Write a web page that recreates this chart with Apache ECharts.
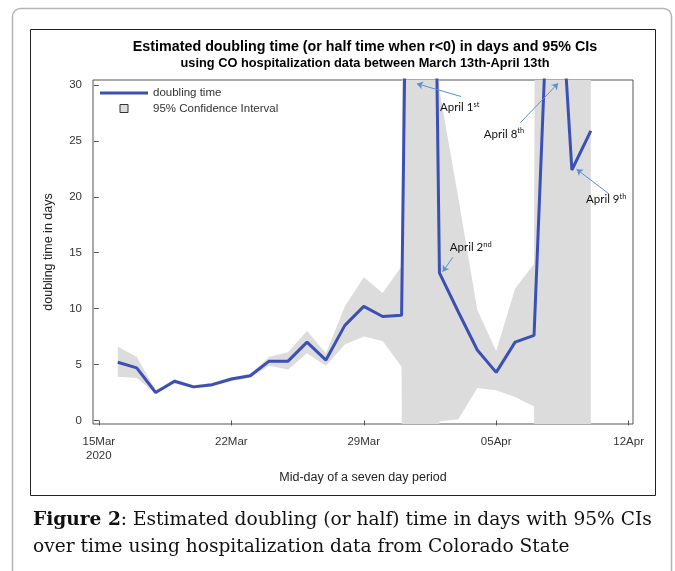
<!DOCTYPE html>
<html>
<head>
<meta charset="utf-8">
<script src="https://cdn.jsdelivr.net/npm/echarts@6/dist/echarts.min.js"></script>
<style>
  html, body { margin: 0; padding: 0; background: #fff; }
  #chart { width: 675px; height: 571px; }
</style>
</head>
<body>
<div id="chart"></div>
<script>
// ---- data ----
const dates = ['2020-03-16','2020-03-17','2020-03-18','2020-03-19','2020-03-20','2020-03-21','2020-03-22','2020-03-23','2020-03-24','2020-03-25','2020-03-26','2020-03-27','2020-03-28','2020-03-29','2020-03-30','2020-03-31','2020-04-01','2020-04-02','2020-04-03','2020-04-04','2020-04-05','2020-04-06','2020-04-07','2020-04-08','2020-04-09','2020-04-10'];
const doublingTime = [5.2,4.7,2.5,3.5,3.0,3.2,3.7,4.0,5.3,5.3,7.0,5.4,8.5,10.2,9.3,9.4,145,13.2,9.7,6.3,4.3,7.0,7.6,50,22.4,25.9];
const ciUpper = [6.6,5.7,2.7,3.7,3.15,3.4,3.85,4.15,5.7,6.1,8.0,6.0,10.2,12.8,11.4,13.8,600,29.5,19.9,9.9,6.2,11.8,14.0,600,200,200];
const ciLower = [3.9,3.8,2.4,3.3,2.85,3.05,3.5,3.85,4.9,4.55,6.0,4.9,6.8,7.5,7.1,4.8,-500,-0.1,0.1,2.9,2.7,2.1,1.25,-500,-100,-100];
const xTickDates = ['2020-03-15','2020-03-22','2020-03-29','2020-04-05','2020-04-12'];
const xTickLabels = ['15Mar\n2020','22Mar','29Mar','05Apr','12Apr'];
const yTicks = [0,5,10,15,20,25,30];
const seriesNames = ['doubling time','95% Confidence Interval'];
const titleText = 'Estimated doubling time (or half time when r<0) in days and 95% CIs';
const subtitleText = 'using CO hospitalization data between March 13th-April 13th';
const xAxisTitle = 'Mid-day of a seven day period';
const yAxisTitle = 'doubling time in days';
const captionBold = 'Figure 2';
const captionLine1 = ': Estimated doubling (or half) time in days with 95% CIs';
const captionLine2 = 'over time using hospitalization data from Colorado State';
// annotations: label anchor and arrow (from -> to) as [date, day offset, value]
const annotations = [
  { main: 'April 1', sup: 'st', at: ['2020-04-02', 0.0, 28.0],   from: ['2020-04-03', 0.15, 28.97], to: ['2020-04-01', -0.19, 30.12] },
  { main: 'April 2', sup: 'nd', at: ['2020-04-02', 0.52, 15.46], from: ['2020-04-03', -0.29, 14.6], to: ['2020-04-02', 0.17, 13.3] },
  { main: 'April 8', sup: 'th', at: ['2020-04-04', 0.32, 25.62], from: ['2020-04-06', 0.28, 26.63], to: ['2020-04-08', 0.27, 30.15] },
  { main: 'April 9', sup: 'th', at: ['2020-04-09', 0.72, 19.79], from: ['2020-04-10', 0.96, 20.26], to: ['2020-04-09', 0.25, 22.47] }
];

// ---- helpers ----
const DAY = 86400000;
const origin = Date.parse('2020-03-15');
const toDay = s => (Date.parse(s) - origin) / DAY;
const pos = p => [toDay(p[0]) + p[1], p[2]];
const xs = dates.map(toDay);
const xTickDays = xTickDates.map(toDay);

const SANS = '"Liberation Sans", Arial, sans-serif';
const SERIF = '"DejaVu Serif", serif';
const NOTE_FONT = 'Lato, "Open Sans", sans-serif';
const LINE_COLOR = '#3C50B4';
const BAND_COLOR = '#dcdcdc';

const chart = echarts.init(document.getElementById('chart'), null, { renderer: 'canvas' });

const lineData = xs.map((d, i) => [d, doublingTime[i]]);
const bandData = xs.map((d, i) => [d, ciLower[i], ciUpper[i]]);

const markPointData = annotations.map(a => ({
  coord: pos(a.at),
  label: { formatter: '{b|' + a.main + '}{s|' + a.sup + '}' }
}));
const markLineData = annotations.map(a => [{ coord: pos(a.from) }, { coord: pos(a.to) }]);

const option = {
  animation: false,
  backgroundColor: '#fff',
  grid: {
    left: 93, right: 42, top: 80, bottom: 147,
    show: true, borderColor: '#555', borderWidth: 1, backgroundColor: 'transparent',
    containLabel: false
  },
  legend: {
    orient: 'vertical',
    left: 100, top: 86, padding: 0,
    itemWidth: 48, itemHeight: 8, itemGap: 1.5,
    textStyle: { fontFamily: SANS, fontSize: 11.5, color: '#333', lineHeight: 14 },
    data: [
      { name: seriesNames[0], icon: 'path://M0,0H48V3H0Z', itemStyle: { color: LINE_COLOR } },
      { name: seriesNames[1], icon: 'path://M0,0H10V10H0Z',
        itemStyle: { color: BAND_COLOR, borderColor: '#333', borderWidth: 1 } }
    ],
    selectedMode: false
  },
  xAxis: {
    type: 'value',
    min: -0.31, max: 28.23,
    splitLine: { show: false },
    axisLine: { show: false },
    axisTick: { show: true, customValues: xTickDays, length: 5, lineStyle: { color: '#555' } },
    axisLabel: {
      customValues: xTickDays,
      formatter: v => { const k = xTickDays.findIndex(t => Math.abs(t - v) < 1e-6); return k >= 0 ? xTickLabels[k] : ''; },
      fontFamily: SANS, fontSize: 11.5, color: '#333', margin: 11, lineHeight: 14
    },
    name: xAxisTitle, nameLocation: 'middle', nameGap: 47,
    nameTextStyle: { fontFamily: SANS, fontSize: 12.5, color: '#222' }
  },
  yAxis: {
    type: 'value',
    min: -0.32, max: 30.45,
    splitLine: { show: false },
    axisLine: { show: false },
    axisTick: { show: true, customValues: yTicks, length: 5, lineStyle: { color: '#555' } },
    axisLabel: { customValues: yTicks, fontFamily: SANS, fontSize: 11.5, color: '#333', margin: 11 },
    name: yAxisTitle, nameLocation: 'middle', nameGap: 38,
    nameTextStyle: { fontFamily: SANS, fontSize: 12.5, color: '#222' }
  },
  series: [
    {
      name: seriesNames[1],
      type: 'custom',
      clip: true,
      z: 1,
      data: bandData,
      encode: { x: 0, y: [1, 2] },
      itemStyle: { color: BAND_COLOR },
      renderItem: function (params, api) {
        if (params.dataIndex !== 0) return null;
        const pts = [];
        for (let i = 0; i < xs.length; i++) pts.push(api.coord([xs[i], ciUpper[i]]));
        for (let i = xs.length - 1; i >= 0; i--) pts.push(api.coord([xs[i], ciLower[i]]));
        return { type: 'polygon', shape: { points: pts }, style: { fill: BAND_COLOR, stroke: null } };
      }
    },
    {
      name: seriesNames[0],
      type: 'line',
      z: 3,
      data: lineData,
      symbol: 'none',
      clip: true,
      itemStyle: { color: LINE_COLOR },
      lineStyle: { color: LINE_COLOR, width: 3 },
      markLine: {
        silent: true,
        symbol: ['none', 'arrow'],
        symbolSize: 6,
        lineStyle: { color: '#5B8FD5', width: 1, type: 'solid' },
        label: { show: false },
        data: markLineData
      },
      markPoint: {
        silent: true,
        symbol: 'circle',
        symbolSize: 1,
        itemStyle: { color: 'rgba(0,0,0,0)' },
        label: {
          show: true, position: 'right', distance: 0,
          rich: {
            b: { fontFamily: NOTE_FONT, fontSize: 11.5, color: '#111', lineHeight: 14 },
            s: { fontFamily: NOTE_FONT, fontSize: 7.5, color: '#111', lineHeight: 8, verticalAlign: 'top' }
          }
        },
        data: markPointData
      }
    }
  ],
  graphic: [
    { type: 'rect', silent: true, z: -10,
      shape: { x: 12.5, y: 8.5, width: 659, height: 620, r: 8 },
      style: { fill: null, stroke: '#b4b4b4', lineWidth: 1.5 } },
    { type: 'rect', silent: true, z: -9,
      shape: { x: 30.5, y: 29.5, width: 625, height: 466 },
      style: { fill: null, stroke: '#222', lineWidth: 1 } },
    { type: 'text', silent: true, x: 365, y: 47,
      style: { text: titleText, font: 'bold 14.3px ' + SANS, fill: '#000', textAlign: 'center', textVerticalAlign: 'middle' } },
    { type: 'text', silent: true, x: 365, y: 63,
      style: { text: subtitleText, font: 'bold 12.8px ' + SANS, fill: '#000', textAlign: 'center', textVerticalAlign: 'middle' } },
    { type: 'text', silent: true, x: 33, y: 507,
      style: {
        text: '{b|' + captionBold + '}{r|' + captionLine1 + '}\n{r|' + captionLine2 + '}',
        rich: {
          b: { font: 'bold 18.6px ' + SERIF, fill: '#111', lineHeight: 27 },
          r: { font: '18.6px ' + SERIF, fill: '#111', lineHeight: 27 }
        }
      } }
  ]
};

chart.setOption(option);
</script>
</body>
</html>
